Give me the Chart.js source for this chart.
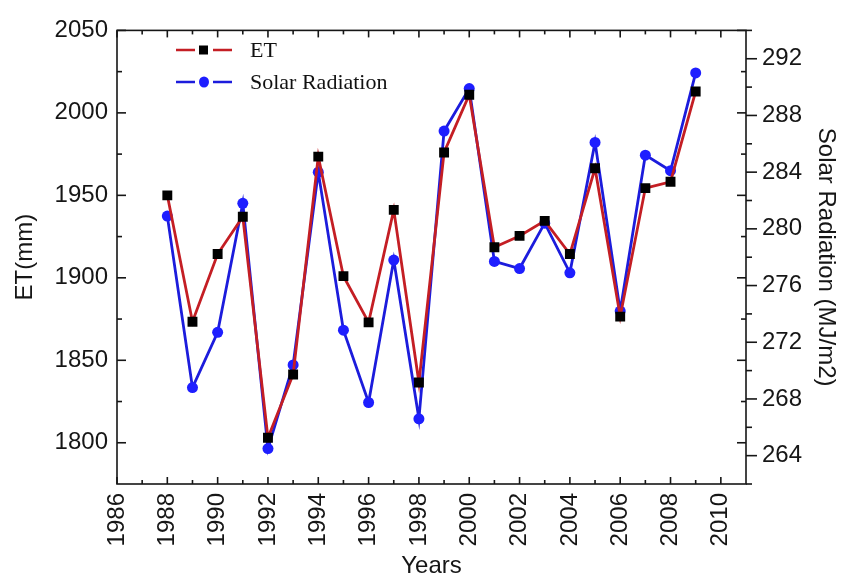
<!DOCTYPE html>
<html><head><meta charset="utf-8">
<script src="https://cdn.jsdelivr.net/npm/chart.js@4.4.0/dist/chart.umd.min.js"></script>
<style>html,body{margin:0;padding:0;background:#fff;}#wrap{width:841px;height:579px;position:relative;}</style>
</head><body><div id="wrap"><canvas id="c" width="841" height="579"></canvas></div>
<script>
// ---- data ----
const years = [1988,1989,1990,1991,1992,1993,1994,1995,1996,1997,1998,1999,2000,2001,2002,2003,2004,2005,2006,2007,2008,2009];
const etValues = [1950,1873.4,1914.4,1937,1803,1841.4,1973.5,1901,1873,1941.2,1836.5,1976,2011,1918.5,1925.4,1934.5,1914.4,1966.4,1876.5,1954.4,1958.2,2013];
const solarValues = [280.9,268.8,272.7,281.8,264.5,270.4,284.0,272.85,267.75,277.8,266.6,286.9,289.9,277.7,277.2,280.4,276.9,286.1,274.2,285.2,284.1,291.0];
const yearTicks = [1986,1988,1990,1992,1994,1996,1998,2000,2002,2004,2006,2008,2010];
const yearMinorTicks = [1987,1989,1991,1993,1995,1997,1999,2001,2003,2005,2007,2009];
const etTicks = [1800,1850,1900,1950,2000,2050];
const etMinorTicks = [1825,1875,1925,1975,2025];
const solarTicks = [264,268,272,276,280,284,288,292];
const solarMinorTicks = [262,266,270,274,278,282,286,290,294];
const seriesNames = ['ET','Solar Radiation'];

const tickFont = {family:'"Liberation Sans", Arial, sans-serif', size:24};
const titleFont = {family:'"Liberation Sans", Arial, sans-serif', size:24, lineHeight:1};
const ink = '#161616';

const frameTicks = {
  id:'frameTicks',
  afterDraw(chart){
    const {ctx, chartArea:a, scales} = chart;
    const sx = scales.x, sy = scales.y, sy2 = scales.y2;
    ctx.save();
    ctx.strokeStyle = ink; ctx.lineWidth = 1.6;
    ctx.strokeRect(a.left, a.top, a.right - a.left, a.bottom - a.top);
    const seg = (x1,y1,x2,y2)=>{ctx.beginPath();ctx.moveTo(x1,y1);ctx.lineTo(x2,y2);ctx.stroke();};
    yearTicks.forEach(v=>{const p=sx.getPixelForValue(v); seg(p,a.bottom,p,a.bottom-7); seg(p,a.top,p,a.top+7);});
    yearMinorTicks.forEach(v=>{const p=sx.getPixelForValue(v); seg(p,a.bottom,p,a.bottom-4); seg(p,a.top,p,a.top+4);});
    etTicks.forEach(v=>{const p=sy.getPixelForValue(v); seg(a.left,p,a.left+9,p); seg(a.right,p,a.right-9,p);});
    etMinorTicks.forEach(v=>{const p=sy.getPixelForValue(v); seg(a.left,p,a.left+5,p); seg(a.right,p,a.right-5,p);});
    solarTicks.forEach(v=>{const p=sy2.getPixelForValue(v); seg(a.right,p,a.right+11,p);});
    solarMinorTicks.forEach(v=>{const p=sy2.getPixelForValue(v); seg(a.right,p,a.right+6,p);});
    ctx.restore();
  }
};

const legendBox = {
  id:'legendBox',
  afterDraw(chart){
    const {ctx} = chart;
    const ds = chart.data.datasets;
    ctx.save();
    const rows = [50, 82];
    ds.forEach((d,i)=>{
      const y = rows[i];
      ctx.strokeStyle = d.borderColor; ctx.lineWidth = 2.5;
      ctx.beginPath(); ctx.moveTo(176,y); ctx.lineTo(195,y); ctx.moveTo(213,y); ctx.lineTo(232,y); ctx.stroke();
      ctx.fillStyle = d.pointBackgroundColor;
      if (d.pointStyle === 'rect') { ctx.fillRect(199,y-4.5,9,9); }
      else { ctx.beginPath(); ctx.ellipse(204,y,5,5.5,0,0,Math.PI*2); ctx.fill(); }
      ctx.fillStyle = '#111';
      ctx.font = '22px "Liberation Serif", "Times New Roman", serif';
      ctx.textBaseline = 'middle';
      ctx.fillText(d.label, 250, y+1);
    });
    ctx.restore();
  }
};

new Chart(document.getElementById('c'), {
  type:'line',
  data:{
    datasets:[
      {label:seriesNames[0], data:years.map((yr,i)=>({x:yr,y:etValues[i]})), yAxisID:'y',
       borderColor:'#c41e24', borderWidth:2.8, pointStyle:'rect', pointRadius:7, pointBorderWidth:0,
       pointBackgroundColor:'#000', pointBorderColor:'#000', tension:0},
      {label:seriesNames[1], data:years.map((yr,i)=>({x:yr,y:solarValues[i]})), yAxisID:'y2',
       borderColor:'#1c1cdc', borderWidth:2.8, pointStyle:'circle', pointRadius:5.5, pointBorderWidth:0,
       pointBackgroundColor:'#1e1eff', pointBorderColor:'#1e1eff', tension:0}
    ]
  },
  options:{
    responsive:false, animation:false, devicePixelRatio:1,
    layout:{padding:{top:20,left:0,right:0,bottom:0}},
    plugins:{legend:{display:false}, tooltip:{enabled:false}},
    scales:{
      x:{type:'linear', position:'bottom', min:1986, max:2011,
         afterBuildTicks:s=>{s.ticks = yearTicks.map(v=>({value:v}));},
         afterFit:s=>{s.height = 95;},
         grid:{display:false, drawTicks:false}, border:{display:false},
         ticks:{font:tickFont, color:ink, minRotation:90, maxRotation:90, padding:9, autoSkip:false, callback:v=>String(v)},
         title:{display:true, text:'Years', font:titleFont, color:ink, padding:{top:0,bottom:1}}},
      y:{type:'linear', position:'left', min:1775, max:2050,
         afterBuildTicks:s=>{s.ticks = etTicks.map(v=>({value:v}));},
         afterFit:s=>{s.width = 117;},
         grid:{display:false, drawTicks:false}, border:{display:false},
         ticks:{font:tickFont, color:ink, padding:9, callback:v=>String(v)},
         title:{display:true, text:'ET(mm)', font:titleFont, color:ink, padding:{top:13,bottom:0}}},
      y2:{type:'linear', position:'right', min:262, max:294,
         afterBuildTicks:s=>{s.ticks = solarTicks.map(v=>({value:v}));},
         afterFit:s=>{s.width = 95;},
         grid:{display:false, drawTicks:false}, border:{display:false},
         ticks:{font:tickFont, color:ink, padding:16, callback:v=>String(v)},
         title:{display:true, text:'Solar Radiation (MJ/m2)', font:titleFont, color:ink, padding:{top:3,bottom:0}}}
    }
  },
  plugins:[frameTicks, legendBox]
});
</script></body></html>
